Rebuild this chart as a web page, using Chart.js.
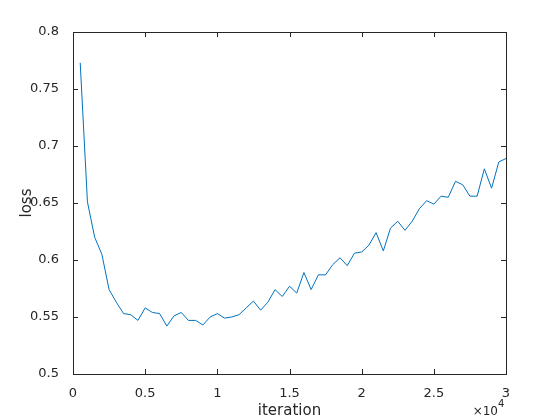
<!DOCTYPE html>
<html>
<head>
<meta charset="utf-8">
<script src="https://cdn.jsdelivr.net/npm/chart.js@4"></script>
<style>
  html, body { margin: 0; padding: 0; background: #fff; }
  #wrap { width: 560px; height: 420px; }
</style>
</head>
<body>
<div id="wrap"><canvas id="plot"></canvas></div>
<script>
// iteration (x) values
const iteraciones = [500, 1000, 1500, 2000, 2500, 3000, 3500, 4000, 4500, 5000,
  5500, 6000, 6500, 7000, 7500, 8000, 8500, 9000, 9500, 10000,
  10500, 11000, 11500, 12000, 12500, 13000, 13500, 14000, 14500, 15000,
  15500, 16000, 16500, 17000, 17500, 18000, 18500, 19000, 19500, 20000,
  20500, 21000, 21500, 22000, 22500, 23000, 23500, 24000, 24500, 25000,
  25500, 26000, 26500, 27000, 27500, 28000, 28500, 29000, 29500, 30000];

// loss values
const perdida = [0.773, 0.651, 0.620, 0.605, 0.574, 0.563, 0.553, 0.552, 0.547, 0.558,
  0.554, 0.553, 0.542, 0.551, 0.554, 0.547, 0.547, 0.543, 0.550, 0.553,
  0.549, 0.550, 0.552, 0.558, 0.564, 0.556, 0.563, 0.574, 0.568, 0.577,
  0.571, 0.589, 0.574, 0.587, 0.587, 0.596, 0.602, 0.595, 0.606, 0.607,
  0.613, 0.624, 0.608, 0.628, 0.634, 0.626, 0.634, 0.645, 0.652, 0.649,
  0.656, 0.655, 0.669, 0.666, 0.656, 0.656, 0.680, 0.663, 0.686, 0.689];

// tick labels
const xTicks = ['0', '0.5', '1', '1.5', '2', '2.5', '3'];
const yTicks = ['0.5', '0.55', '0.6', '0.65', '0.7', '0.75', '0.8'];

const colorEje = '#262626';
const fuente = 'DejaVu Sans';

// MATLAB style box with inward ticks on all four sides, plus the x10^4 multiplier
const cajaMatlab = {
  id: 'cajaMatlab',
  afterDraw(chart) {
    const ctx = chart.ctx;
    const a = chart.chartArea;
    const sx = chart.scales.x;
    const sy = chart.scales.y;
    const largo = 5;
    ctx.save();
    ctx.strokeStyle = colorEje;
    ctx.lineWidth = 1;
    ctx.strokeRect(Math.round(a.left) + 0.5, Math.round(a.top) + 0.5,
      Math.round(a.right - a.left), Math.round(a.bottom - a.top));
    ctx.beginPath();
    sx.ticks.forEach(t => {
      const px = Math.round(sx.getPixelForValue(t.value)) + 0.5;
      ctx.moveTo(px, a.bottom); ctx.lineTo(px, a.bottom - largo);
      ctx.moveTo(px, a.top); ctx.lineTo(px, a.top + largo);
    });
    sy.ticks.forEach(t => {
      const py = Math.round(sy.getPixelForValue(t.value)) + 0.5;
      ctx.moveTo(a.left, py); ctx.lineTo(a.left + largo, py);
      ctx.moveTo(a.right, py); ctx.lineTo(a.right - largo, py);
    });
    ctx.stroke();
    // exponent label
    ctx.fillStyle = colorEje;
    ctx.textBaseline = 'alphabetic';
    ctx.textAlign = 'right';
    ctx.font = '12px ' + fuente;
    ctx.fillText('\u00d710', a.right - 8, 415);
    ctx.font = '10px ' + fuente;
    ctx.textAlign = 'left';
    ctx.fillText('4', a.right - 8, 407);
    ctx.restore();
  }
};

let puntos = iteraciones.map((it, i) => ({x: it, y: perdida[i]}));

let config = {
  type: 'line',
  data: {
    datasets: [{
      label: 'loss',
      data: puntos,
      borderColor: '#0072BD',
      borderWidth: 1,
      pointRadius: 0,
      tension: 0,
      fill: false
    }]
  },
  options: {
    responsive: false,
    animation: false,
    layout: { padding: { top: 32, right: 54, left: 0, bottom: 0 } },
    plugins: { legend: { display: false }, tooltip: { enabled: false } },
    scales: {
      x: {
        type: 'linear',
        min: 0, max: 30000,
        grid: { display: false },
        border: { display: false },
        ticks: {
          stepSize: 5000,
          maxRotation: 0,
          padding: 4,
          color: colorEje,
          font: { family: fuente, size: 13 },
          callback: (v) => xTicks[Math.round(v / 5000)]
        },
        title: {
          display: true, text: 'iteration', color: colorEje,
          font: { family: fuente, size: 15 },
          padding: { top: 4, bottom: 0 }
        },
        afterFit: (s) => { s.height = 46; }
      },
      y: {
        min: 0.5, max: 0.8,
        grid: { display: false },
        border: { display: false },
        ticks: {
          stepSize: 0.05,
          padding: 6,
          color: colorEje,
          font: { family: fuente, size: 13 },
          callback: (v) => yTicks[Math.round((v - 0.5) / 0.05)]
        },
        title: {
          display: true, text: 'loss', color: colorEje,
          font: { family: fuente, size: 15 },
          padding: { top: 18, bottom: 0 }
        },
        afterFit: (s) => { s.width = 73; }
      }
    }
  },
  plugins: [cajaMatlab]
};

let canvasRef = document.getElementById('plot');
canvasRef.width = 560;
canvasRef.height = 420;
let chart1 = new Chart(canvasRef, config);
</script>
</body>
</html>
